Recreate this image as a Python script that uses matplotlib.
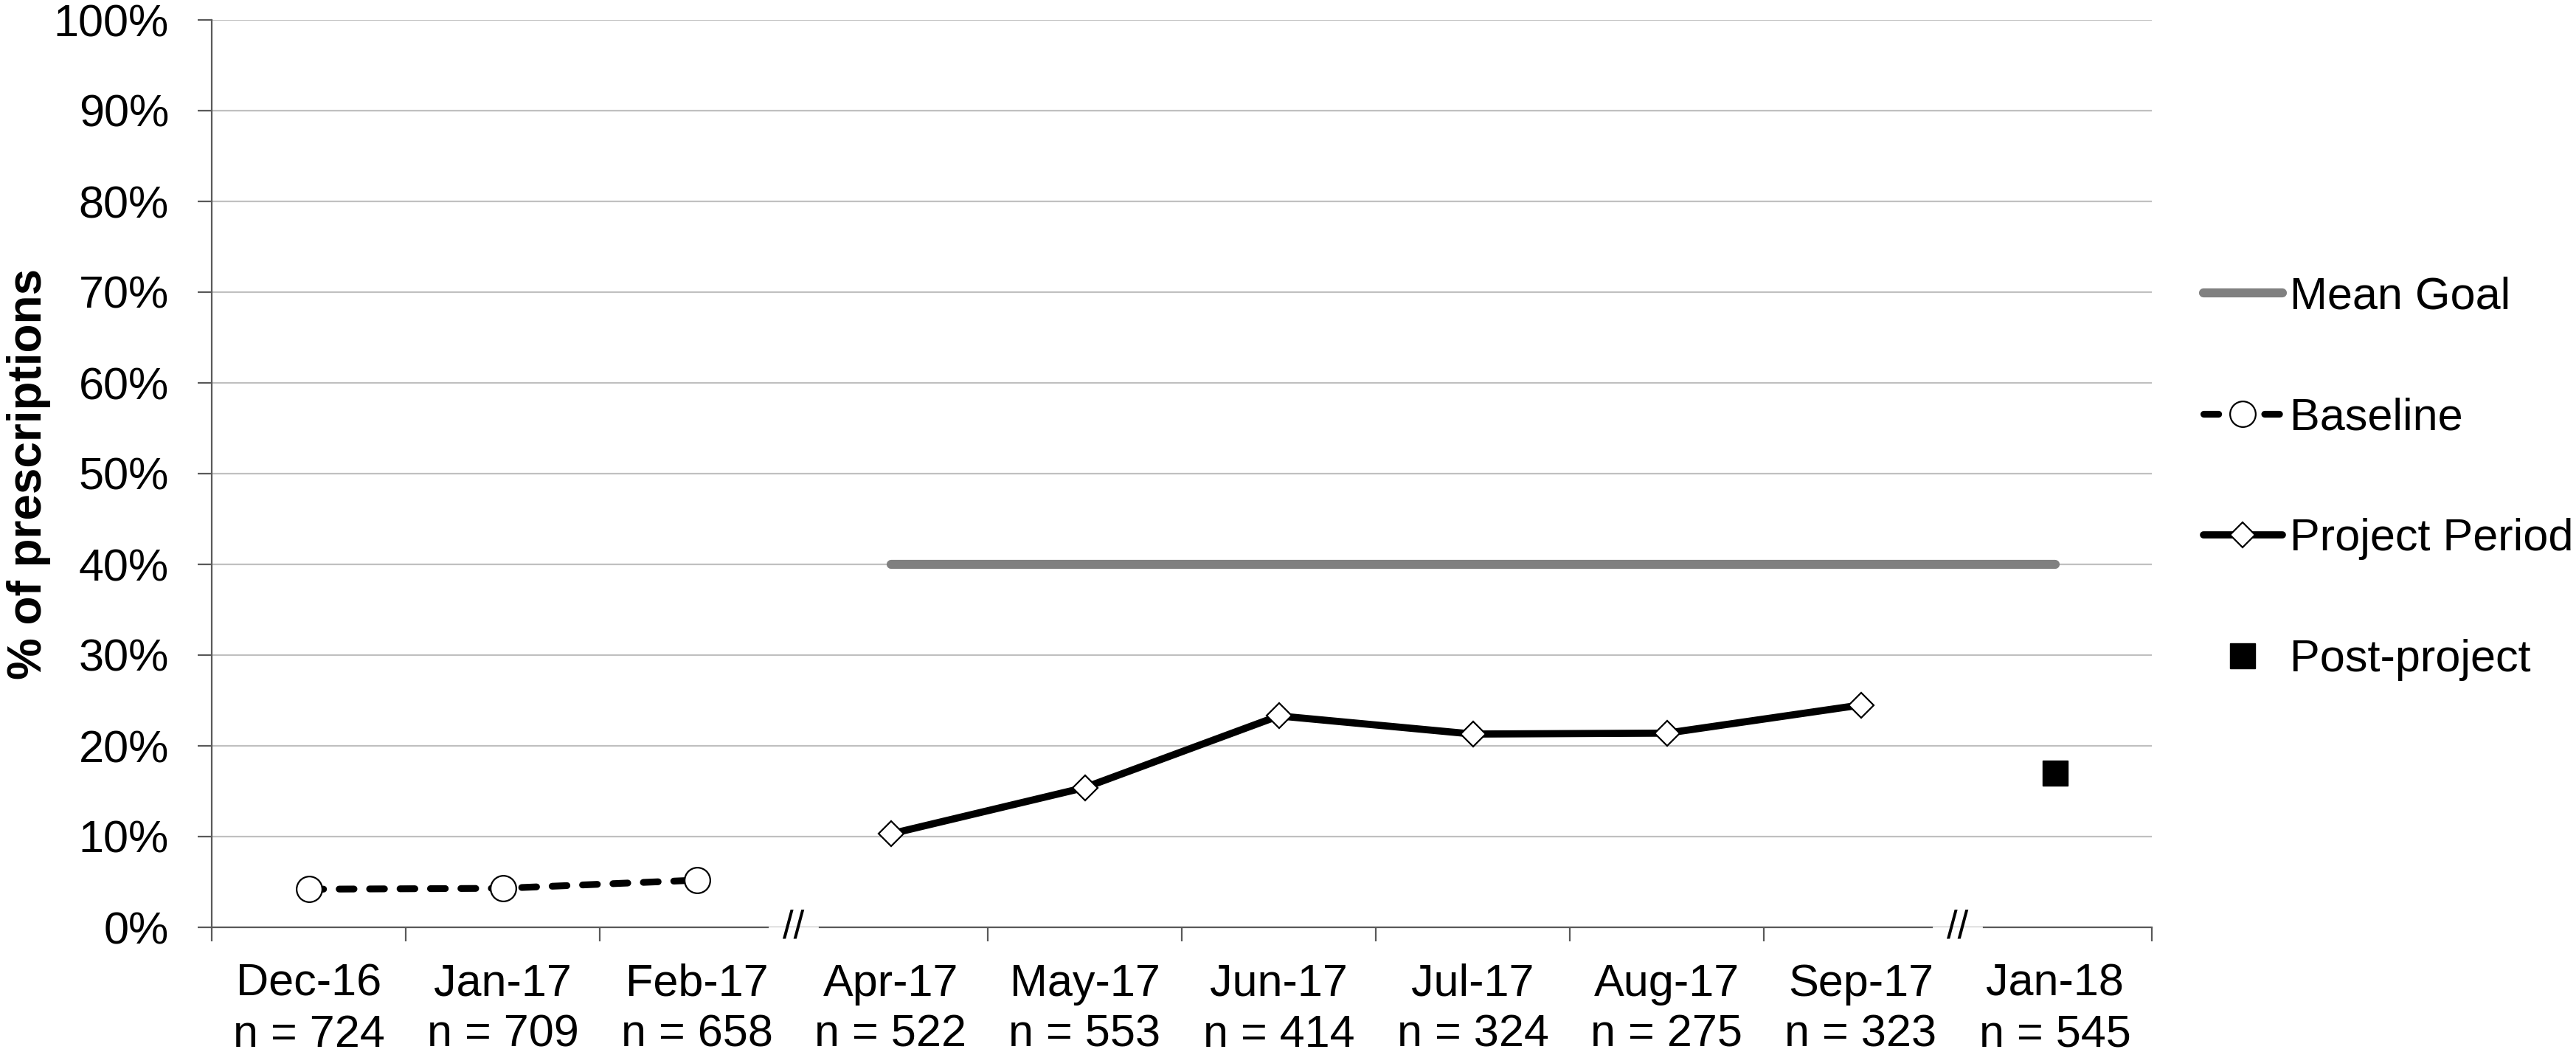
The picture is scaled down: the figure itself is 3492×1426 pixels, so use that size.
import matplotlib
matplotlib.use("Agg")
import matplotlib.pyplot as plt
from matplotlib.ticker import FixedLocator, NullFormatter, FixedFormatter, PercentFormatter

plt.rcParams['font.family'] = ['Liberation Sans', 'DejaVu Sans']

# ---- data ----
months = ["Dec-16", "Jan-17", "Feb-17", "Apr-17", "May-17", "Jun-17",
          "Jul-17", "Aug-17", "Sep-17", "Jan-18"]
n_counts = [724, 709, 658, 522, 553, 414, 324, 275, 323, 545]
baseline_months = ["Dec-16", "Jan-17", "Feb-17"]
baseline_vals = [4.2, 4.3, 5.2]
project_months = ["Apr-17", "May-17", "Jun-17", "Jul-17", "Aug-17", "Sep-17"]
project_vals = [10.3, 15.4, 23.3, 21.3, 21.4, 24.5]
post_months = ["Jan-18"]
post_vals = [17.0]
goal_months = ["Apr-17", "Jan-18"]
goal_val = 40
break_after = ["Feb-17", "Sep-17"]   # axis breaks after these months
y_ticks = [0, 10, 20, 30, 40, 50, 60, 70, 80, 90, 100]

idx = {m: i for i, m in enumerate(months)}

W, H, DPI = 3492, 1426, 100
fig = plt.figure(figsize=(W / DPI, H / DPI), dpi=DPI)
ax = fig.add_axes([287 / W, 1 - 1257 / H, (2917 - 287) / W, (1257 - 27) / H])

FS = 44
axis_col = "#595959"

# gridlines
ax.set_ylim(0, 100)
ax.set_xlim(-0.5, len(months) - 0.5)
ax.yaxis.set_major_locator(FixedLocator(y_ticks))
ax.yaxis.set_major_formatter(PercentFormatter(decimals=0))
ax.grid(axis="y", color="#c0c0c0", linewidth=1.6)
ax.set_axisbelow(True)

# series
goal_x = [idx[m] for m in goal_months]
l_goal, = ax.plot(goal_x, [goal_val] * len(goal_x), color="#808080", lw=8.8,
                  solid_capstyle="round", label="Mean Goal", zorder=3)
l_base, = ax.plot([idx[m] for m in baseline_months], baseline_vals, color="black",
                  lw=6.6, linestyle=(0, (2.2, 2.3)), dash_capstyle="round",
                  marker="o", ms=25, mfc="white", mec="black", mew=1.6,
                  label="Baseline", zorder=4)
l_proj, = ax.plot([idx[m] for m in project_months], project_vals, color="black",
                  lw=7, solid_capstyle="round", solid_joinstyle="round",
                  marker="D", ms=17.5, mfc="white", mec="black", mew=1.6,
                  label="Project Period", zorder=4)
l_post, = ax.plot([idx[m] for m in post_months], post_vals, linestyle="none",
                  marker="s", ms=25, mfc="black", mec="black",
                  label="Post-project", zorder=4)

# spines
for s in ["top", "right", "bottom"]:
    ax.spines[s].set_visible(False)
ax.spines["left"].set_color(axis_col)
ax.spines["left"].set_linewidth(1.6)

# y ticks
ax.tick_params(axis="y", which="major", direction="out", length=13.7, width=1.6,
               color=axis_col, pad=28, labelsize=FS, labelcolor="black")

# x ticks: boundaries (major, no labels), centers (minor, labels)
breaks = [idx[m] + 0.5 for m in break_after]
bounds = [i - 0.5 for i in range(len(months) + 1)]
tick_bounds = [b for b in bounds if b not in breaks]
ax.xaxis.set_major_locator(FixedLocator(tick_bounds))
ax.xaxis.set_major_formatter(NullFormatter())
ax.xaxis.set_minor_locator(FixedLocator(list(range(len(months)))))
ax.xaxis.set_minor_formatter(FixedFormatter(
    [f"{m}\nn = {n}" for m, n in zip(months, n_counts)]))
ax.tick_params(axis="x", which="major", direction="out", length=13.7, width=1.6,
               color=axis_col)
ax.tick_params(axis="x", which="minor", length=0, pad=35, labelsize=FS)
for lab in ax.xaxis.get_minorticklabels():
    lab.set_linespacing(1.28)

# broken x-axis line
gap = 0.133
seg_start = bounds[0]
trans = ax.get_xaxis_transform()
for b in breaks + [None]:
    seg_end = (b - gap) if b is not None else bounds[-1]
    ax.plot([seg_start, seg_end], [0, 0], color=axis_col, lw=1.6,
            transform=trans, clip_on=False, zorder=2)
    if b is not None:
        ax.text(b, 0, "//", transform=trans, ha="center", va="center",
                fontsize=38, color="black", clip_on=False)
        seg_start = b + gap

ax.set_ylabel("% of prescriptions", fontsize=46, fontweight="bold", labelpad=3)

leg = fig.legend(handles=[l_goal, l_base, l_proj, l_post],
                 loc="center left", bbox_to_anchor=(2987 / W, 1 - 649 / H),
                 frameon=False, fontsize=FS, handlelength=1.75,
                 handletextpad=0.16, labelspacing=1.75, borderpad=0,
                 borderaxespad=0)

fig.savefig("out.png", dpi=DPI)
